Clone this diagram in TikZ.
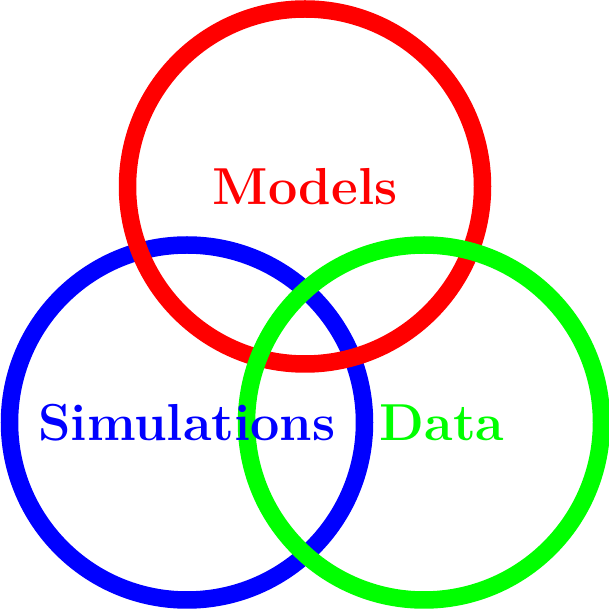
\documentclass[tikz,border=0pt]{standalone}
\usepackage{tikz}
\tikzset{ring/.style={line width=.175cm}, lbl/.style={font=\fontsize{14.8}{18}\selectfont\bfseries}}
\begin{document}
\begin{tikzpicture}
\useasboundingbox(0,0)rectangle(6.09,6.09);
%rings
\draw[ring,blue](1.87,1.865)circle(1.775);
\draw[ring,red](3.05,4.225)circle(1.775);
\draw[ring,green](4.24,1.865)circle(1.775);
%labels
\node[lbl,red](models)at(3.05,4.225){Models};
\node[lbl,blue](sims)at(1.87,1.865){Simulations};
\node[lbl,green](data)at(4.42,1.865){Data};
\end{tikzpicture}
\end{document}
